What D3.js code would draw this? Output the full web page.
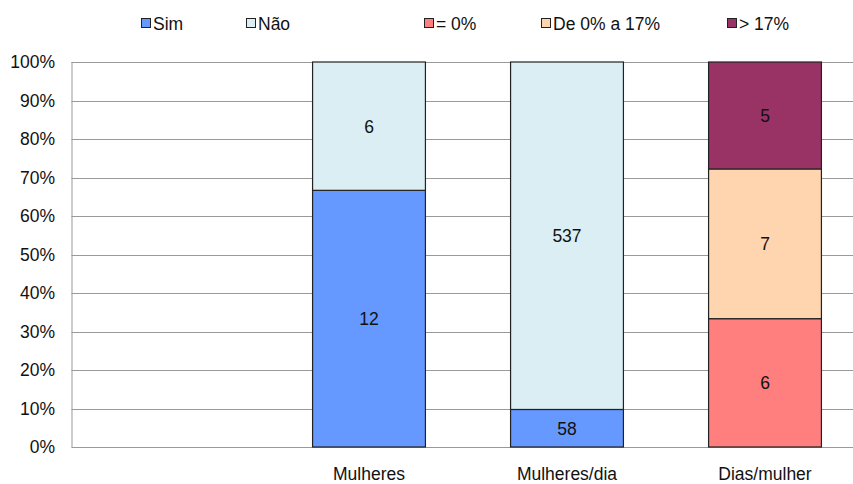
<!DOCTYPE html>
<html><head><meta charset="utf-8">
<script src="https://cdn.jsdelivr.net/npm/d3@7"></script>
<style>body{margin:0;background:#fff}svg{display:block;font-family:"Liberation Sans",Arial,sans-serif}</style>
</head><body><svg id="c" width="853" height="484"></svg>
<script>
const categories = ["", "Mulheres", "Mulheres/dia", "Dias/mulher"];
const seriesNames = ["Sim", "Não", "= 0%", "De 0% a 17%", "> 17%"];
const seriesColors = ["#6699FF", "#DAEEF3", "#FF7F7F", "#FFD5B0", "#993366"];
const simValues = [0, 12, 58, 0];
const naoValues = [0, 6, 537, 0];
const zeroValues = [0, 0, 0, 6];
const midValues = [0, 0, 0, 7];
const highValues = [0, 0, 0, 5];
const yTicks = [0, 0.1, 0.2, 0.3, 0.4, 0.5, 0.6, 0.7, 0.8, 0.9, 1];

const allSeries = [simValues, naoValues, zeroValues, midValues, highValues];
const FS = 17.5;
const svg = d3.select("#c");
const m = {l: 71.5, t: 62, b: 447};
const x = d3.scaleBand().domain(categories).range([71.5, 863.5]).paddingInner(0.43).paddingOuter(0.215);
const y = d3.scaleLinear().domain([0, 1]).range([m.b, m.t]);

// gridlines
svg.append("g").selectAll("line").data(yTicks).join("line")
  .attr("x1", m.l).attr("x2", 853).attr("y1", d => Math.round(y(d)) + 0.5).attr("y2", d => Math.round(y(d)) + 0.5)
  .attr("stroke", "#999").attr("stroke-width", 1);
svg.append("line").attr("x1", m.l + 0.5).attr("x2", m.l + 0.5).attr("y1", m.t).attr("y2", m.b + 0.5)
  .attr("stroke", "#999");

// y tick labels
svg.append("g").selectAll("text").data(yTicks).join("text")
  .attr("x", 55).attr("y", d => y(d) + 6).attr("text-anchor", "end")
  .attr("font-size", FS).attr("fill", "#111").text(d => d3.format(".0%")(d));

// stacks
categories.forEach((cat, ci) => {
  const vals = allSeries.map(s => s[ci]);
  const total = d3.sum(vals);
  if (!total) return;
  let acc = 0;
  vals.forEach((v, si) => {
    if (!v) return;
    const y0 = acc / total, y1 = (acc + v) / total;
    acc += v;
    svg.append("rect").attr("x", x(cat) + 0.5).attr("width", x.bandwidth())
      .attr("y", y(y1)).attr("height", y(y0) - y(y1))
      .attr("fill", seriesColors[si]).attr("stroke", "#222").attr("stroke-width", 1.2);
    svg.append("text").attr("x", x(cat) + x.bandwidth() / 2 + 0.5).attr("y", (y(y0) + y(y1)) / 2 + 6.5)
      .attr("text-anchor", "middle").attr("font-size", FS).attr("fill", "#111").text(v);
  });
});

// x labels
svg.append("g").selectAll("text").data(categories).join("text")
  .attr("x", d => x(d) + x.bandwidth() / 2 + 0.5).attr("y", 480).attr("text-anchor", "middle")
  .attr("font-size", FS).attr("fill", "#111").text(d => d);

// legend
const legX = [141, 246, 424, 541, 727];
const leg = svg.append("g");
seriesNames.forEach((n, i) => {
  leg.append("rect").attr("x", legX[i] + 0.5).attr("y", 18.5).attr("width", 9).attr("height", 9)
    .attr("fill", seriesColors[i]).attr("stroke", "#222").attr("stroke-width", 1);
  leg.append("text").attr("x", legX[i] + 12).attr("y", 30).attr("font-size", FS).attr("fill", "#111").text(n);
});
</script></body></html>
